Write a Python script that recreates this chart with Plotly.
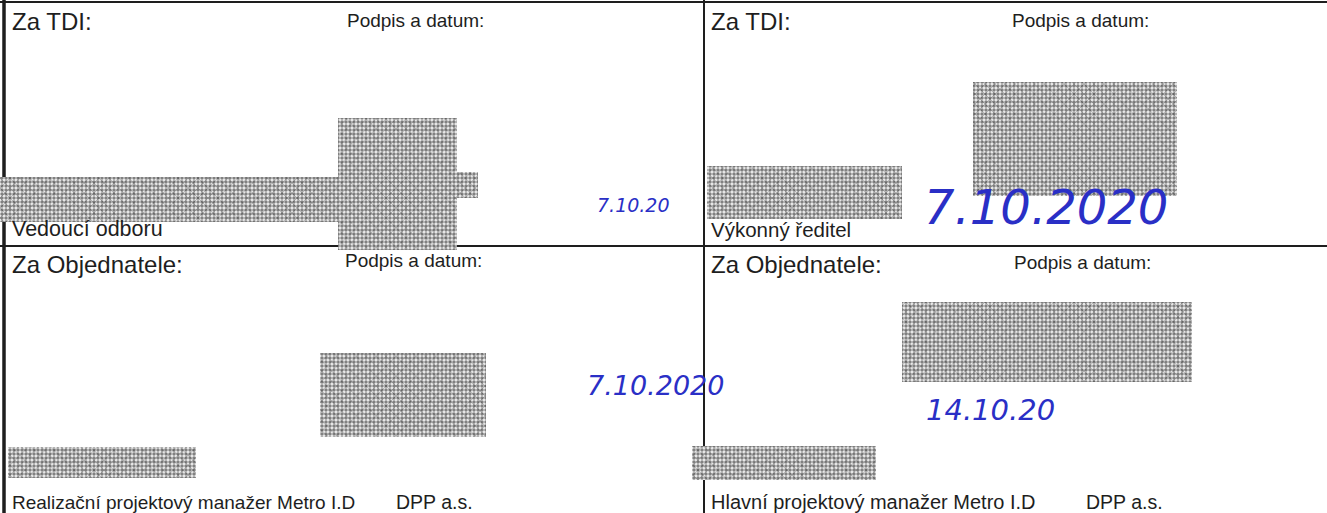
# Podpisová tabulka (sken) - rekonstrukce v Plotly

import plotly.graph_objects as go

W, H = 1327, 513

# texty formuláře
section_titles = ["Za TDI:", "Za TDI:", "Za Objednatele:", "Za Objednatele:"]
sign_labels = ["Podpis a datum:"] * 4
role_labels = [
    "Vedoucí odboru",
    "Výkonný ředitel",
    "Realizační projektový manažer Metro I.D",
    "Hlavní projektový manažer Metro I.D",
]
company_labels = ["", "", "DPP a.s.", "DPP a.s."]
handwritten_dates = ["7.10.20", "7.10.2020", "7.10.2020", "14.10.20"]

# rozmístění buněk (levý okraj textu, svislé pozice řádků)
cell_x = [10, 709, 10, 709]
title_y = [21, 21, 264, 264]
sign_x = [345, 1010, 343, 1012]
sign_y = [20, 20, 260, 262]
role_y = [229, 229, 502, 502]
role_size = [21.5, 20.5, 19, 20]
company_x = [0, 0, 394, 1084]
date_x = [633, 1046, 655, 990]
date_y = [205, 207, 385, 410]
date_size = [19, 48, 27, 29]

# začerněné (anonymizované) oblasti: x0, x1, y0, y1
redact_x0 = [338, 0, 448, 973, 707, 320, 8, 902, 692]
redact_x1 = [457, 355, 478, 1177, 902, 486, 196, 1192, 876]
redact_y0 = [118, 177, 172, 82, 166, 353, 447, 302, 446]
redact_y1 = [250, 222, 198, 196, 219, 437, 478, 382, 480]

INK = "#1e1e1e"
PEN = "#2a2fc6"
FONT = "Liberation Sans, Arial, sans-serif"

fig = go.Figure()

# anonymizované oblasti jako šumová textura (dvě vrstvy vzorku)
for x0, x1, y0, y1 in zip(redact_x0, redact_x1, redact_y0, redact_y1):
    xs = [x0, x1, x1, x0, x0]
    ys = [y0, y0, y1, y1, y0]
    fig.add_trace(
        go.Scatter(
            x=xs, y=ys, mode="lines", fill="toself",
            line=dict(width=0), fillcolor="#9c9c9c",
            fillpattern=dict(shape=".", fgcolor="#101010", bgcolor="#f2f2f2",
                             size=4, solidity=0.6),
            hoverinfo="skip", showlegend=False,
        )
    )
    fig.add_trace(
        go.Scatter(
            x=xs, y=ys, mode="lines", fill="toself",
            line=dict(width=0), fillcolor="rgba(0,0,0,0)",
            fillpattern=dict(shape="x", fgcolor="rgba(30,30,30,0.6)",
                             bgcolor="rgba(0,0,0,0)", size=7, solidity=0.25),
            hoverinfo="skip", showlegend=False,
        )
    )

# čáry tabulky
lines = [
    (0, 2, W, 2, 2),
    (0, 246, W, 246, 2),
    (4, 0, 4, H, 3.5),
    (704, 0, 704, H, 2),
]
for x0, y0, x1, y1, w in lines:
    fig.add_shape(
        type="line", x0=x0, y0=y0, x1=x1, y1=y1,
        line=dict(color=INK, width=w), layer="below",
    )


def add_text(x, y, text, size, color=INK, anchor="left", style="normal", family=FONT):
    fig.add_annotation(
        x=x, y=y, text=text, showarrow=False,
        xanchor=anchor, yanchor="middle",
        font=dict(family=family, size=size, color=color, style=style),
    )


for i in range(4):
    add_text(cell_x[i], title_y[i], section_titles[i], 24)
    add_text(sign_x[i], sign_y[i], sign_labels[i], 19)
    add_text(cell_x[i], role_y[i], role_labels[i], role_size[i])
    if company_labels[i]:
        add_text(company_x[i], role_y[i], company_labels[i], 19.5)
    add_text(
        date_x[i], date_y[i], handwritten_dates[i], date_size[i],
        color=PEN, anchor="center", style="italic", family="DejaVu Sans, sans-serif",
    )

fig.update_layout(
    width=W,
    height=H,
    margin=dict(l=0, r=0, t=0, b=0),
    paper_bgcolor="white",
    plot_bgcolor="white",
    xaxis=dict(range=[0, W], visible=False, fixedrange=True),
    yaxis=dict(range=[H, 0], visible=False, fixedrange=True),
    showlegend=False,
)

fig.write_html(
    "out.html",
    config={"displayModeBar": False},
    post_script="document.body.style.margin='0px';",
)
